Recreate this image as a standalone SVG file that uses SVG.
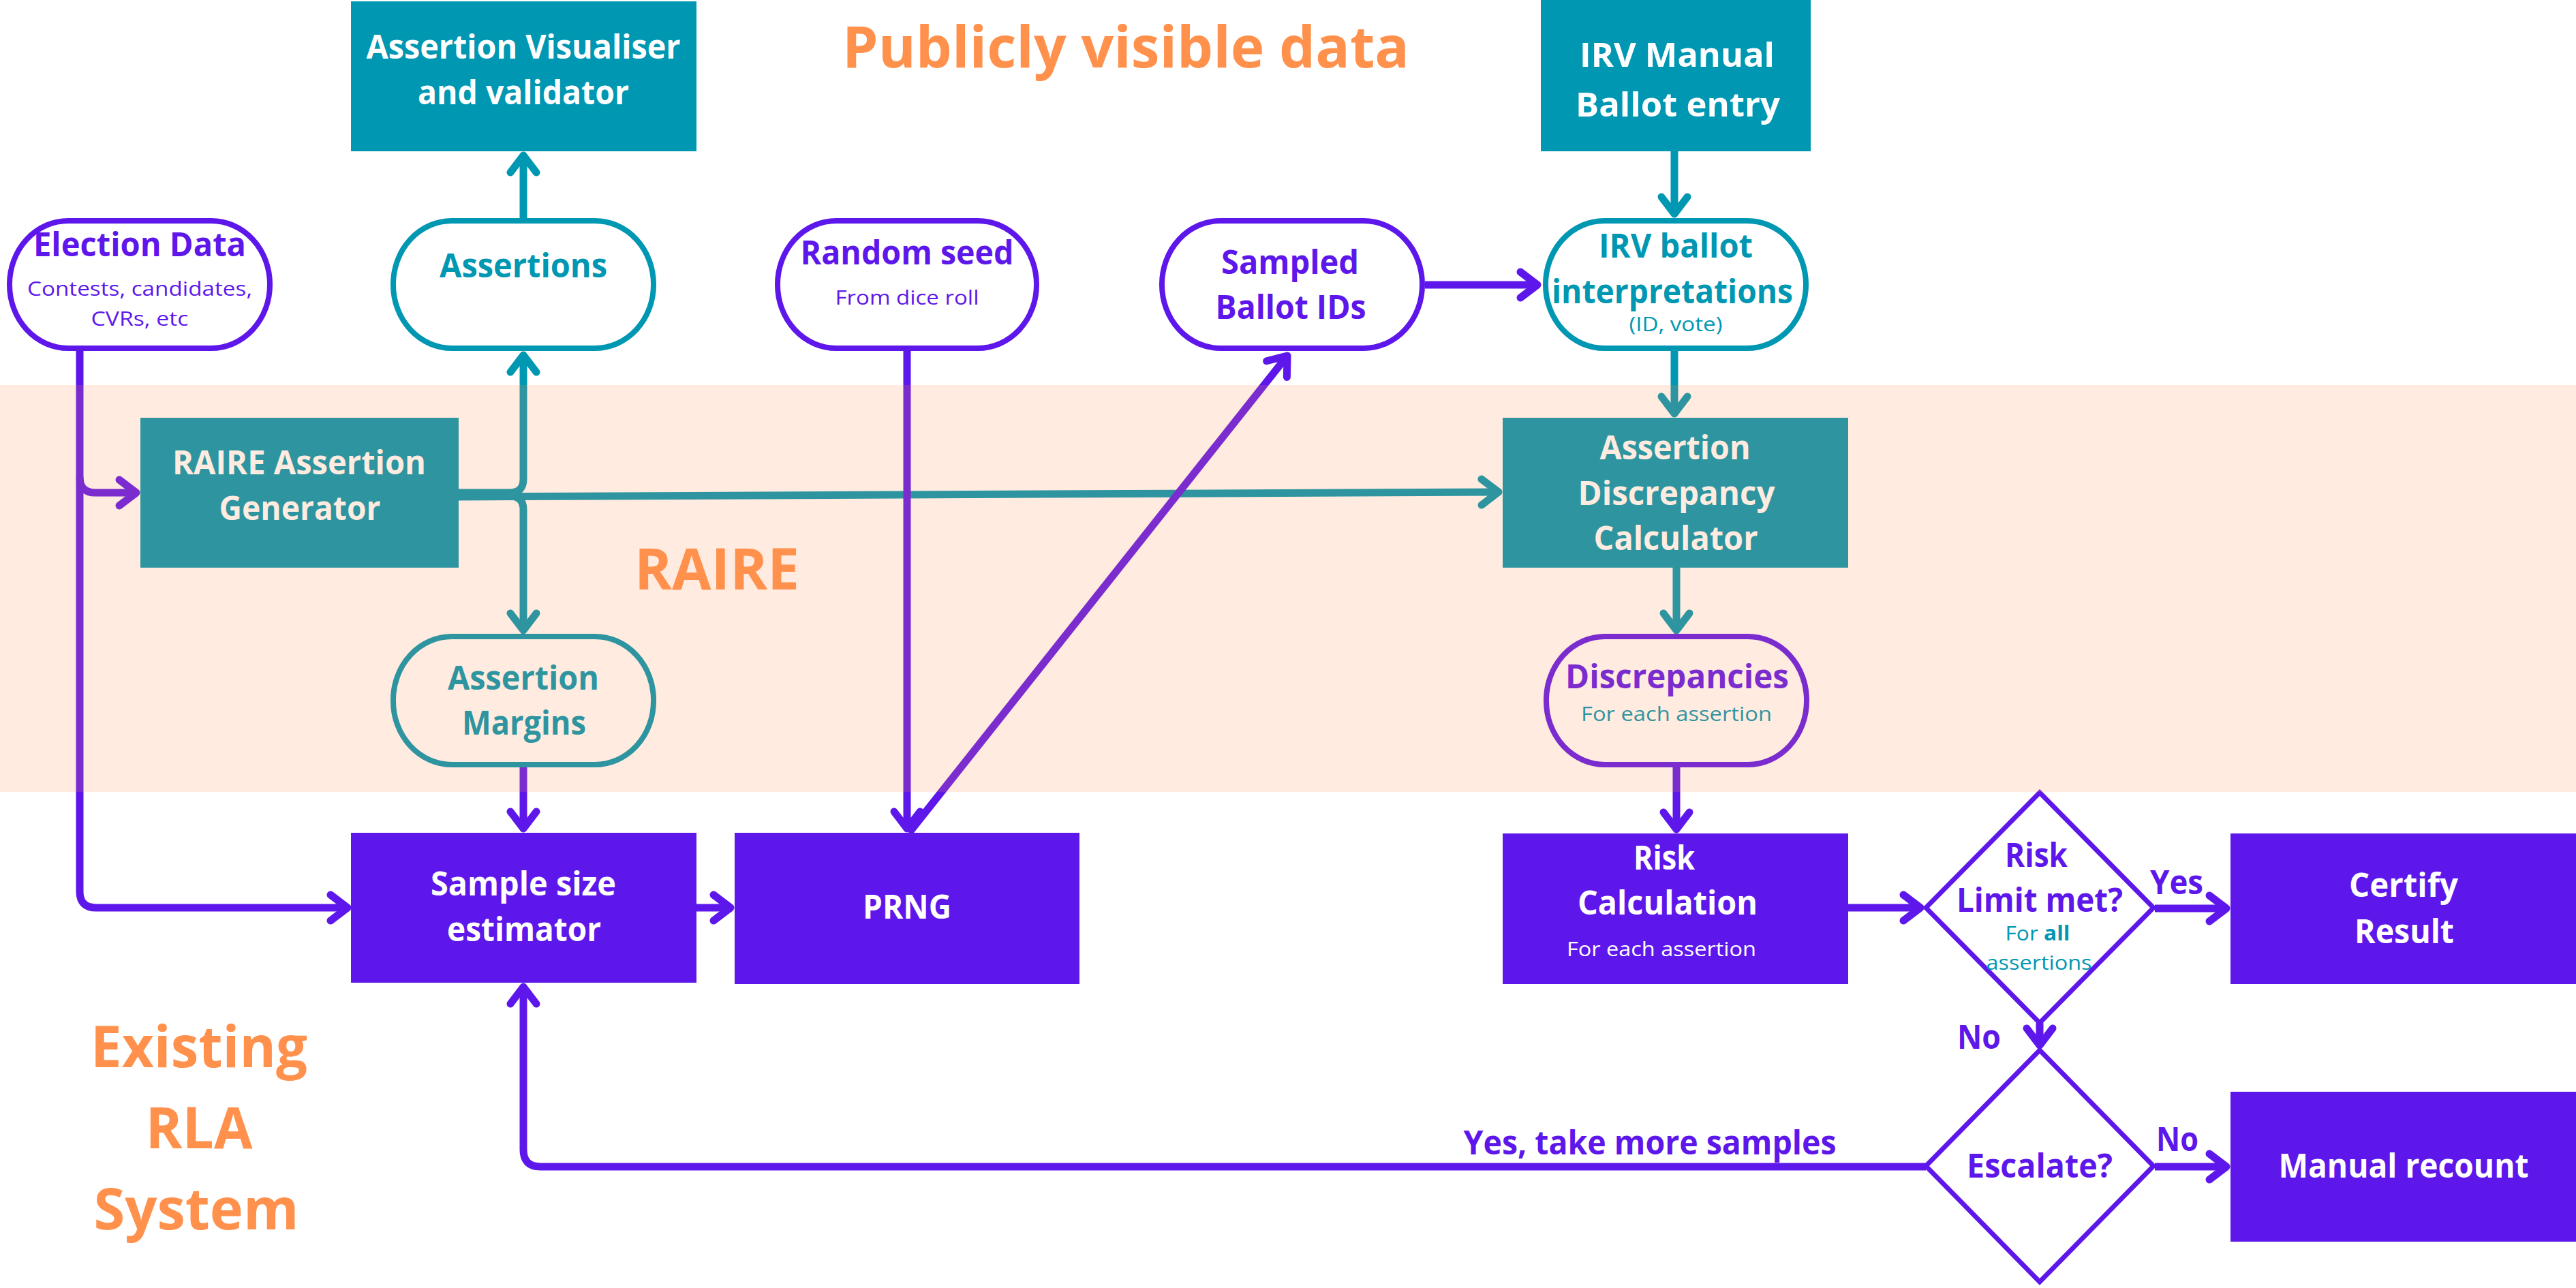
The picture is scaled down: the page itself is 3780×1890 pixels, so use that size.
<svg xmlns="http://www.w3.org/2000/svg" width="3780" height="1890" viewBox="0 0 3780 1890">
<style>
.t{font-family:"Open Sans","Liberation Sans",sans-serif;font-weight:700;font-size:48px;text-anchor:middle}
.s{font-family:"Open Sans","Liberation Sans",sans-serif;font-weight:400;font-size:30px;text-anchor:middle}
.h{font-family:"Open Sans","Liberation Sans",sans-serif;font-weight:700;font-size:84px;text-anchor:middle;fill:#FF914D}
.w{fill:#FFFFFF}
.p{fill:#5E17EB}
.c{fill:#0097B2}
.boxT{fill:#0097B2}
.boxP{fill:#5E17EB}
.pillP{fill:#FFFFFF;stroke:#5E17EB;stroke-width:8}
.pillT{fill:#FFFFFF;stroke:#0097B2;stroke-width:8}
.dia{fill:#FFFFFF;stroke:#5E17EB;stroke-width:7;stroke-linejoin:miter}
.lp{fill:none;stroke:#5E17EB;stroke-width:11;marker-end:url(#mp)}
.lt{fill:none;stroke:#0097B2;stroke-width:11;marker-end:url(#mt)}
</style>
<defs>
<marker id="mp" markerUnits="userSpaceOnUse" markerWidth="60" markerHeight="60" viewBox="-40 -30 60 60" refX="0" refY="0" orient="auto" overflow="visible">
<path d="M-25,-19 L0,0 L-25,19" fill="none" stroke="#5E17EB" stroke-width="11" stroke-linecap="round" stroke-linejoin="round"/>
</marker>
<marker id="mt" markerUnits="userSpaceOnUse" markerWidth="60" markerHeight="60" viewBox="-40 -30 60 60" refX="0" refY="0" orient="auto" overflow="visible">
<path d="M-25,-19 L0,0 L-25,19" fill="none" stroke="#0097B2" stroke-width="11" stroke-linecap="round" stroke-linejoin="round"/>
</marker>
</defs>
<rect x="0" y="0" width="3780" height="1890" fill="#FFFFFF"/>

<g id="connectors">
<path class="lt" d="M768,320 L768,228"/>
<path class="lt" d="M673,723 L748,723 Q768,723 768,703 L768,521"/>
<path class="lt" d="M673,728 L748,728 Q768,728 768,748 L768,925"/>
<path class="lt" d="M673,729 L2199,722"/>
<path class="lt" d="M2457,222 L2457,314"/>
<path class="lt" d="M2457,515 L2457,607"/>
<path class="lt" d="M2460,833 L2460,925"/>
<path class="lp" d="M117,515 L117,1308 Q117,1332 141,1332 L510,1332"/>
<path class="lp" d="M117,700 Q117,723 140,723 L200,723"/>
<path class="lp" d="M768,1126 L768,1216"/>
<path class="lp" d="M1331,515 L1331,1216"/>
<path class="lp" d="M1334,1222 L1889,522"/>
<path class="lp" d="M2091,418 L2256,418"/>
<path class="lp" d="M1022,1332 L1072,1332"/>
<path class="lp" d="M2460,1126 L2460,1217"/>
<path class="lp" d="M2712,1332 L2818,1332"/>
<path class="lp" d="M3162,1333 L3267,1333"/>
<path class="lp" d="M2993,1501 L2993,1534"/>
<path class="lp" d="M3162,1712 L3267,1712"/>
<path class="lp" d="M2826,1712 L793,1712 Q768,1712 768,1687 L768,1448"/>
</g>

<g id="visualiser">
<rect class="boxT" x="515" y="2" width="507" height="220"/>
<text class="t w" x="768" y="86" textLength="461" lengthAdjust="spacingAndGlyphs">Assertion Visualiser</text>
<text class="t w" x="768" y="153" textLength="310" lengthAdjust="spacingAndGlyphs">and validator</text>
</g>

<g id="irv-manual">
<rect class="boxT" x="2261" y="0" width="396" height="222"/>
<text class="t w" x="2461" y="98" textLength="286" lengthAdjust="spacingAndGlyphs">IRV Manual</text>
<text class="t w" x="2462" y="171" textLength="300" lengthAdjust="spacingAndGlyphs">Ballot entry</text>
</g>

<g id="election-data">
<rect class="pillP" x="14" y="324" width="382" height="187" rx="86" ry="93"/>
<text class="t p" x="205" y="376" textLength="312" lengthAdjust="spacingAndGlyphs">Election Data</text>
<text class="s p" x="205" y="434" font-size="28" textLength="330" lengthAdjust="spacingAndGlyphs">Contests, candidates,</text>
<text class="s p" x="205" y="478" font-size="28" textLength="143" lengthAdjust="spacingAndGlyphs">CVRs, etc</text>
</g>

<g id="assertions">
<rect class="pillT" x="577" y="324" width="382" height="187" rx="86" ry="93"/>
<text class="t c" x="768" y="407" textLength="246" lengthAdjust="spacingAndGlyphs">Assertions</text>
</g>

<g id="random-seed">
<rect class="pillP" x="1141" y="324" width="380" height="187" rx="86" ry="93"/>
<text class="t p" x="1331" y="388" textLength="313" lengthAdjust="spacingAndGlyphs">Random seed</text>
<text class="s p" x="1331" y="447" textLength="211" lengthAdjust="spacingAndGlyphs">From dice roll</text>
</g>

<g id="sampled-ballots">
<rect class="pillP" x="1705" y="324" width="382" height="187" rx="86" ry="93"/>
<text class="t p" x="1893" y="402" textLength="202" lengthAdjust="spacingAndGlyphs">Sampled</text>
<text class="t p" x="1894" y="468" textLength="221" lengthAdjust="spacingAndGlyphs">Ballot IDs</text>
</g>

<g id="irv-interpretations">
<rect class="pillT" x="2268" y="324" width="382" height="187" rx="86" ry="93"/>
<text class="t c" x="2459" y="378" textLength="226" lengthAdjust="spacingAndGlyphs">IRV ballot</text>
<text class="t c" x="2454" y="445" textLength="354" lengthAdjust="spacingAndGlyphs">interpretations</text>
<text class="s c" x="2459" y="486" font-size="28" textLength="137" lengthAdjust="spacingAndGlyphs">(ID, vote)</text>
</g>

<g id="raire-generator">
<rect class="boxT" x="206" y="613" width="467" height="220"/>
<text class="t w" x="439" y="696" textLength="372" lengthAdjust="spacingAndGlyphs">RAIRE Assertion</text>
<text class="t w" x="440" y="763" textLength="237" lengthAdjust="spacingAndGlyphs">Generator</text>
</g>

<g id="discrepancy-calculator">
<rect class="boxT" x="2205" y="613" width="507" height="220"/>
<text class="t w" x="2458" y="674" textLength="221" lengthAdjust="spacingAndGlyphs">Assertion</text>
<text class="t w" x="2460" y="741" textLength="289" lengthAdjust="spacingAndGlyphs">Discrepancy</text>
<text class="t w" x="2459" y="807" textLength="241" lengthAdjust="spacingAndGlyphs">Calculator</text>
</g>

<g id="assertion-margins">
<rect class="pillT" x="577" y="934" width="382" height="188" rx="86" ry="93"/>
<text class="t c" x="768" y="1012" textLength="222" lengthAdjust="spacingAndGlyphs">Assertion</text>
<text class="t c" x="769" y="1078" textLength="182" lengthAdjust="spacingAndGlyphs">Margins</text>
</g>

<g id="discrepancies">
<rect class="pillP" x="2269" y="934" width="382" height="188" rx="86" ry="93"/>
<text class="t p" x="2461" y="1010" textLength="328" lengthAdjust="spacingAndGlyphs">Discrepancies</text>
<text class="s c" x="2460" y="1058" textLength="280" lengthAdjust="spacingAndGlyphs">For each assertion</text>
</g>

<g id="sample-size-estimator">
<rect class="boxP" x="515" y="1222" width="507" height="220"/>
<text class="t w" x="768" y="1314" textLength="272" lengthAdjust="spacingAndGlyphs">Sample size</text>
<text class="t w" x="769" y="1381" textLength="226" lengthAdjust="spacingAndGlyphs">estimator</text>
</g>

<g id="prng">
<rect class="boxP" x="1078" y="1222" width="506" height="222"/>
<text class="t w" x="1331" y="1348" textLength="130" lengthAdjust="spacingAndGlyphs">PRNG</text>
</g>

<g id="risk-calculation">
<rect class="boxP" x="2205" y="1223" width="507" height="221"/>
<text class="t w" x="2442" y="1276" textLength="90" lengthAdjust="spacingAndGlyphs">Risk</text>
<text class="t w" x="2447" y="1342" textLength="264" lengthAdjust="spacingAndGlyphs">Calculation</text>
<text class="s w" x="2438" y="1403" textLength="278" lengthAdjust="spacingAndGlyphs">For each assertion</text>
</g>

<g id="risk-limit">
<polygon class="dia" points="2993,1163 3160,1332 2993,1501 2826,1332"/>
<text class="t p" x="2988" y="1272" textLength="92" lengthAdjust="spacingAndGlyphs">Risk</text>
<text class="t p" x="2993" y="1338" textLength="244" lengthAdjust="spacingAndGlyphs">Limit met?</text>
<text class="s c" x="2990" y="1380" font-size="31" textLength="95" lengthAdjust="spacingAndGlyphs">For <tspan font-weight="700">all</tspan></text>
<text class="s c" x="2992" y="1423" font-size="31" textLength="155" lengthAdjust="spacingAndGlyphs">assertions</text>
</g>

<g id="certify-result">
<rect class="boxP" x="3273" y="1223" width="507" height="221"/>
<text class="t w" x="3527" y="1316" textLength="160" lengthAdjust="spacingAndGlyphs">Certify</text>
<text class="t w" x="3528" y="1384" textLength="146" lengthAdjust="spacingAndGlyphs">Result</text>
</g>

<g id="escalate">
<polygon class="dia" points="2993,1541 3160,1711 2993,1881 2826,1711"/>
<text class="t p" x="2993" y="1728" textLength="214" lengthAdjust="spacingAndGlyphs">Escalate?</text>
</g>

<g id="manual-recount">
<rect class="boxP" x="3273" y="1602" width="507" height="220"/>
<text class="t w" x="3527" y="1728" textLength="367" lengthAdjust="spacingAndGlyphs">Manual recount</text>
</g>

<g id="edge-labels">
<text class="t p" x="3194" y="1312" textLength="78" lengthAdjust="spacingAndGlyphs">Yes</text>
<text class="t p" x="2904" y="1539" textLength="64" lengthAdjust="spacingAndGlyphs">No</text>
<text class="t p" x="3195" y="1689" textLength="62" lengthAdjust="spacingAndGlyphs">No</text>
<text class="t p" x="2421" y="1694" textLength="547" lengthAdjust="spacingAndGlyphs">Yes, take more samples</text>
</g>

<rect id="raire-band" x="0" y="565" width="3780" height="597" fill="#FF914D" fill-opacity="0.18"/>

<g id="region-labels">
<text class="h" x="1652" y="99" textLength="832" lengthAdjust="spacingAndGlyphs">Publicly visible data</text>
<text class="h" x="1052" y="865" textLength="242" lengthAdjust="spacingAndGlyphs">RAIRE</text>
<text class="h" x="292" y="1566" textLength="318" lengthAdjust="spacingAndGlyphs">Existing</text>
<text class="h" x="292" y="1685" textLength="157" lengthAdjust="spacingAndGlyphs">RLA</text>
<text class="h" x="288" y="1804" textLength="301" lengthAdjust="spacingAndGlyphs">System</text>
</g>
</svg>
